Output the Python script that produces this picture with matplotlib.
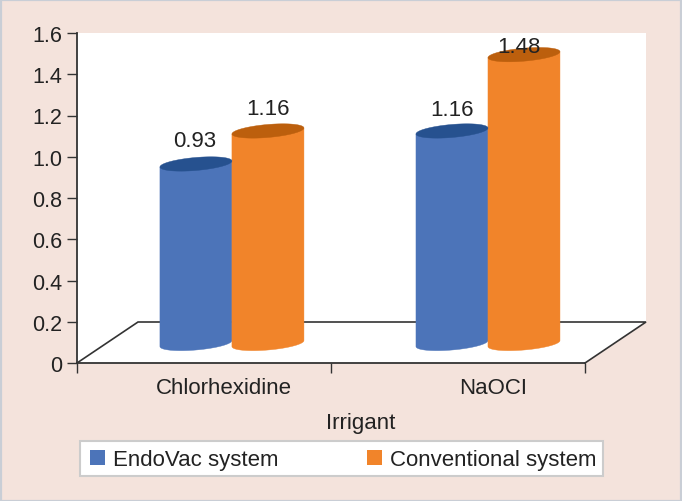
import numpy as np
import matplotlib
matplotlib.use('Agg')
import matplotlib.pyplot as plt
import matplotlib.patches as patches

# Chart data
categories = ['Chlorhexidine', 'NaOCI']
series_names = ['EndoVac system', 'Conventional system']
endovac_values = [0.93, 1.16]
conventional_values = [1.16, 1.48]
# where the cylinder tops actually sit against the y axis (3D projection)
endovac_tops = [0.965, 1.125]
conventional_tops = [1.125, 1.495]
y_ticks = [0, 0.2, 0.4, 0.6, 0.8, 1.0, 1.2, 1.4, 1.6]
y_tick_labels = ['0', '0.2', '0.4', '0.6', '0.8', '1.0', '1.2', '1.4', '1.6']

# Styles
BG = '#F4E3DC'
BORDER = '#C9CED6'
LINE = '#333333'
TEXT = '#222222'
BLUE, BLUE_DARK = '#4C74B9', '#26518F'
ORANGE, ORANGE_DARK = '#F1842A', '#BC5F0D'
FONT = 16

W, H = 682, 502
LEFT, RIGHT, TOP, BOTTOM = 77, 646, 34, 364
CAT_W = 254.0  # px per category on the front axis

plt.rcParams['font.family'] = ['Liberation Sans', 'DejaVu Sans']

fig = plt.figure(figsize=(W / 100, H / 100), dpi=100, facecolor=BG)
fig.add_artist(patches.Rectangle((0.5 / W, 0.5 / H), (W - 1.5) / W, (H - 1.5) / H,
                                 transform=fig.transFigure, fill=False,
                                 edgecolor=BORDER, linewidth=1.6))
ax = fig.add_axes([LEFT / W, 1 - BOTTOM / H, (RIGHT - LEFT) / W, (BOTTOM - TOP) / H])
ax.patch.set_visible(False)

ax.set_ylim(0, 1.6)
ax.set_xlim(0, (RIGHT - LEFT) / CAT_W)
unit_y = 1.6 / (BOTTOM - TOP)  # data units per pixel
unit_x = 1 / CAT_W

# Wall and floor of the 3D box
depth_x = 61 * unit_x
xmax = (RIGHT - LEFT) / CAT_W
floor_y = 41 * unit_y
ax.add_patch(patches.Polygon([(0, 0), (0, 1.6), (xmax, 1.6), (xmax, floor_y), (2, 0)],
                             facecolor='white', edgecolor='none', zorder=0))
ax.plot([0, depth_x, xmax, 2], [0, floor_y, floor_y, 0], color=LINE, lw=1.2, zorder=1,
        clip_on=False, solid_joinstyle='miter')


def draw_cylinder(ax, xc, top, color, dark):
    half = 36 * unit_x
    b = 6.5 * unit_y
    s = 3.0 * unit_y
    base = 19.5 * unit_y
    t = np.linspace(0, 2 * np.pi, 121)
    front = np.linspace(np.pi, 2 * np.pi, 61)
    bx = xc + half * np.cos(front)
    by = base + b * np.sin(front) + s * np.cos(front)
    body_x = np.concatenate([bx, [xc + half, xc - half]])
    body_y = np.concatenate([by, [top + s, top - s]])
    ax.fill(body_x, body_y, color=color, lw=0.3, zorder=2)
    ax.fill(xc + half * np.cos(t), top + b * np.sin(t) + s * np.cos(t),
            color=dark, lw=0.3, zorder=3)


x_pos = np.arange(len(categories))
group_shift = [0.11, 0.118]
bar_step = 72 * unit_x
label_offsets = [[23, 22], [21, 8]]  # px above the cylinder top
label_shift = [[-1, 0], [0, -5]]

for i in range(len(categories)):
    xs = x_pos[i] + 0.5 + group_shift[i]
    draw_cylinder(ax, xs - bar_step / 2, endovac_tops[i], BLUE, BLUE_DARK)
    draw_cylinder(ax, xs + bar_step / 2, conventional_tops[i], ORANGE, ORANGE_DARK)
    for j, (value, top, sign) in enumerate([(endovac_values[i], endovac_tops[i], -1),
                                            (conventional_values[i], conventional_tops[i], 1)]):
        ax.annotate(f'{value:.2f}', (xs + sign * bar_step / 2, top),
                    xytext=(label_shift[i][j] * 0.72, label_offsets[i][j] * 0.72),
                    textcoords='offset points', ha='center', va='center',
                    fontsize=FONT, color=TEXT, zorder=5)

# Axes lines and ticks
for side in ['top', 'right', 'bottom']:
    ax.spines[side].set_visible(False)
ax.spines['left'].set_color(LINE)
ax.spines['left'].set_linewidth(1.3)
ax.set_yticks(y_ticks)
ax.set_yticklabels(y_tick_labels, fontsize=15.5, color=TEXT)
ax.tick_params(axis='y', length=7.2, width=1.0, color=LINE, pad=3.2)
ax.plot([0, 2], [0, 0], color=LINE, lw=1.3, zorder=4, clip_on=False)

# category boundaries as ticks, names centred below
ax.set_xticks([0, 1, 2])
ax.set_xticklabels([])
ax.tick_params(axis='x', length=7, width=1.0, color=LINE)
for i, name in enumerate(categories):
    fig.text((224 if i == 0 else 493) / W, 1 - 389 / H, name, ha='center', va='center',
             fontsize=FONT, color=TEXT)
fig.text(361 / W, 1 - 424 / H, 'Irrigant', ha='center', va='center', fontsize=FONT, color=TEXT)

# Legend: the frame is a separate box because it is tighter than the legend padding allows
fig.add_artist(patches.Rectangle((80 / W, 1 - 477 / H), 523 / W, 35 / H,
                                 transform=fig.transFigure, facecolor='white',
                                 edgecolor='#CCCCCC', linewidth=1.5))
handles = [patches.Patch(facecolor=BLUE, edgecolor='none', label=series_names[0]),
           patches.Patch(facecolor=ORANGE, edgecolor='none', label=series_names[1])]
leg = fig.legend(handles=handles, ncol=2, loc='center left',
                 bbox_to_anchor=(81 / W, 1 - 461 / H), bbox_transform=fig.transFigure,
                 fontsize=FONT, frameon=False, borderaxespad=0, borderpad=0.42,
                 handlelength=0.68, handleheight=0.68, handletextpad=0.36,
                 columnspacing=3.95, labelcolor=TEXT)
leg.set_zorder(5)

fig.savefig('out.png', dpi=100, facecolor=BG)
